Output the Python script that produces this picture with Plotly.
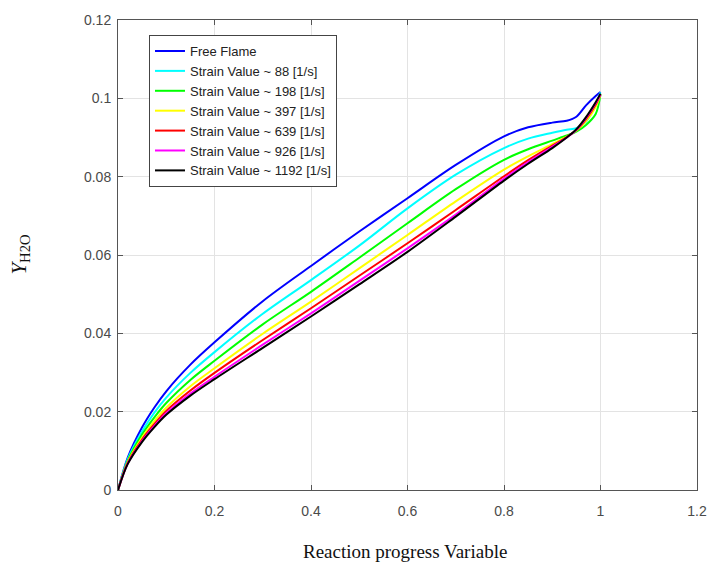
import plotly.graph_objects as go

x_vals = [0, 0.02, 0.05, 0.075, 0.1, 0.15, 0.2, 0.3, 0.4, 0.5, 0.6, 0.7, 0.8, 0.85, 0.9, 0.93, 0.95, 0.97, 0.99, 1.0]

free_flame = [0, 0.0082, 0.0160, 0.0210, 0.0252, 0.0320, 0.0377, 0.0482, 0.0572, 0.0660, 0.0745, 0.0830, 0.0903, 0.0926, 0.0938, 0.0943, 0.0953, 0.0982, 0.1006, 0.1016]
strain_88 = [0, 0.0078, 0.0150, 0.0197, 0.0236, 0.0299, 0.0352, 0.0450, 0.0536, 0.0624, 0.0719, 0.0805, 0.0873, 0.0897, 0.0912, 0.0920, 0.0924, 0.0940, 0.0985, 0.1015]
strain_198 = [0, 0.0074, 0.0142, 0.0185, 0.0222, 0.0281, 0.0330, 0.0423, 0.0506, 0.0593, 0.0681, 0.0768, 0.0843, 0.0870, 0.0892, 0.0905, 0.0915, 0.0932, 0.0960, 0.1010]
strain_397 = [0, 0.0071, 0.0134, 0.0175, 0.0210, 0.0265, 0.0311, 0.0399, 0.0481, 0.0566, 0.0651, 0.0737, 0.0818, 0.0852, 0.0883, 0.0902, 0.0918, 0.0942, 0.0978, 0.1010]
strain_639 = [0, 0.0069, 0.0129, 0.0168, 0.0202, 0.0254, 0.0299, 0.0383, 0.0464, 0.0547, 0.0630, 0.0715, 0.0801, 0.0842, 0.0879, 0.0901, 0.0919, 0.0947, 0.0984, 0.1010]
strain_926 = [0, 0.0067, 0.0125, 0.0163, 0.0196, 0.0246, 0.0289, 0.0371, 0.0451, 0.0534, 0.0617, 0.0703, 0.0795, 0.0837, 0.0876, 0.0900, 0.0920, 0.0950, 0.0988, 0.1010]
strain_1192 = [0, 0.0066, 0.0123, 0.0160, 0.0192, 0.0241, 0.0283, 0.0363, 0.0443, 0.0525, 0.0608, 0.0698, 0.0790, 0.0833, 0.0873, 0.0900, 0.0921, 0.0952, 0.0990, 0.1012]

series_names = ["Free Flame", "Strain Value ~ 88 [1/s]", "Strain Value ~ 198 [1/s]",
                "Strain Value ~ 397 [1/s]", "Strain Value ~ 639 [1/s]",
                "Strain Value ~ 926 [1/s]", "Strain Value ~ 1192 [1/s]"]
series_vals = [free_flame, strain_88, strain_198, strain_397, strain_639, strain_926, strain_1192]
colors = ["#0000ff", "#00ffff", "#00ff00", "#ffff00", "#ff0000", "#ff00ff", "#000000"]

x_ticks = [0, 0.2, 0.4, 0.6, 0.8, 1, 1.2]
x_tick_text = ["0", "0.2", "0.4", "0.6", "0.8", "1", "1.2"]
y_ticks = [0, 0.02, 0.04, 0.06, 0.08, 0.1, 0.12]
y_tick_text = ["0", "0.02", "0.04", "0.06", "0.08", "0.1", "0.12"]

fig = go.Figure()
for name, vals, col in zip(series_names, series_vals, colors):
    fig.add_trace(go.Scatter(x=x_vals, y=vals, mode="lines", name=name,
                             line=dict(color=col, width=2, shape="spline", smoothing=0.9)))

axis_common = dict(showgrid=True, gridcolor="#e3e3e3", gridwidth=1,
                   showline=True, linecolor="#555555", linewidth=1, mirror="ticks",
                   ticks="inside", ticklen=5, tickcolor="#555555", zeroline=False,
                   automargin=False,
                   tickfont=dict(family="Liberation Sans, Arial", size=14, color="#4a4a4a"))

fig.update_xaxes(range=[0, 1.2], tickvals=x_ticks, ticktext=x_tick_text,
                 ticklabelstandoff=8, **axis_common)
fig.update_yaxes(range=[0, 0.12], tickvals=y_ticks, ticktext=y_tick_text,
                 ticklabelstandoff=3, **axis_common)

fig.add_annotation(text="Reaction progress Variable", xref="paper", yref="paper",
                   x=0.4957, y=-0.1298, xanchor="center", yanchor="middle", showarrow=False,
                   font=dict(family="Liberation Serif, DejaVu Serif", size=19, color="#111111"))
fig.add_annotation(text="<i>Y</i><sub>H2O</sub>", xref="paper", yref="paper",
                   x=-0.17, y=0.5, xanchor="center", yanchor="middle", showarrow=False,
                   textangle=-90,
                   font=dict(family="Liberation Serif, DejaVu Serif", size=21, color="#111111"))

fig.update_layout(
    width=711, height=566,
    margin=dict(l=118, r=14, t=20, b=76),
    plot_bgcolor="white", paper_bgcolor="white",
    legend=dict(x=0.0535, y=0.968, xanchor="left", yanchor="top",
                bgcolor="white", bordercolor="#444444", borderwidth=1,
                font=dict(family="Liberation Sans, Arial", size=13, color="#222222"),
                tracegroupgap=0, itemwidth=30),
    showlegend=True,
)

fig.write_html("out.html")
